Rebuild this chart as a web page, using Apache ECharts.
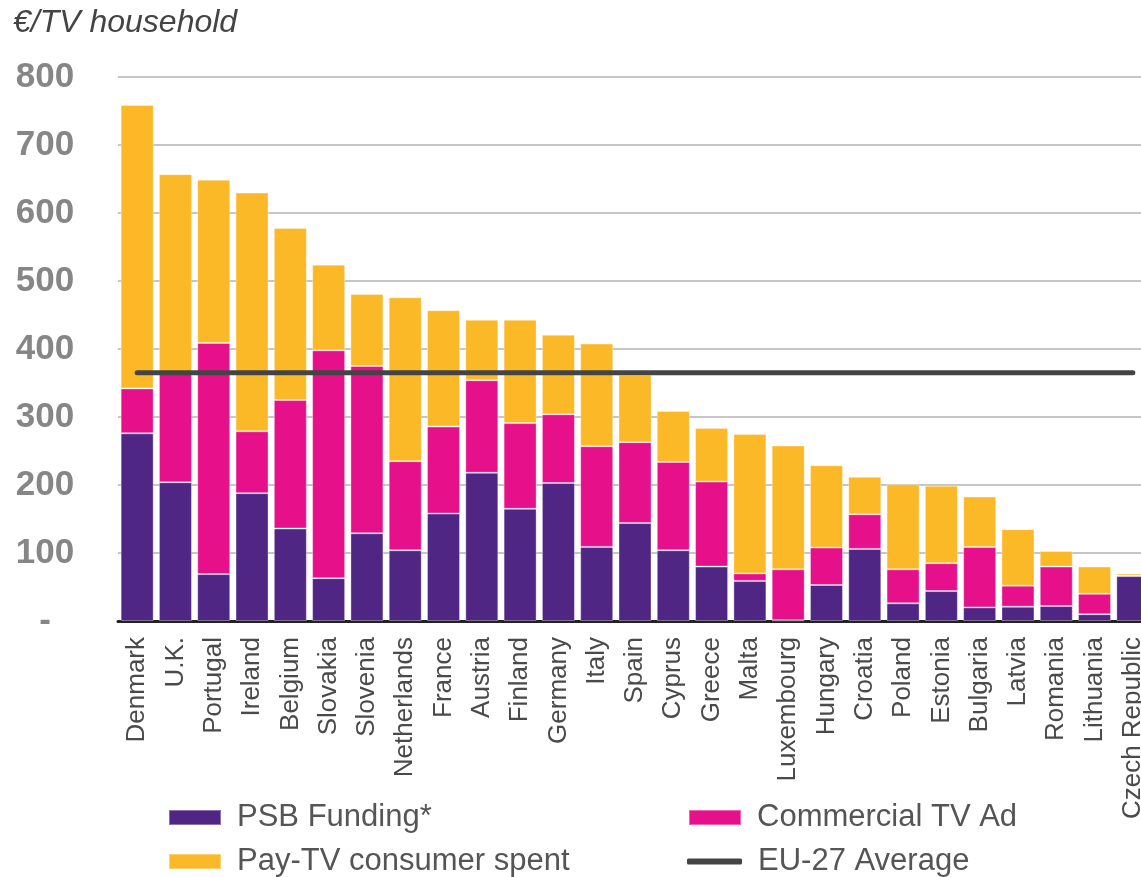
<!DOCTYPE html>
<html>
<head>
<meta charset="utf-8">
<script src="https://cdn.jsdelivr.net/npm/echarts@6/dist/echarts.min.js"></script>
<style>
  html, body { margin: 0; padding: 0; background: #fff; overflow: hidden; }
  #chart { width: 1141px; height: 877px; }
</style>
</head>
<body>
<div id="chart"></div>
<script>
const categories = ['Denmark', 'U.K.', 'Portugal', 'Ireland', 'Belgium', 'Slovakia', 'Slovenia', 'Netherlands', 'France', 'Austria', 'Finland', 'Germany', 'Italy', 'Spain', 'Cyprus', 'Greece', 'Malta', 'Luxembourg', 'Hungary', 'Croatia', 'Poland', 'Estonia', 'Bulgaria', 'Latvia', 'Romania', 'Lithuania', 'Czech Republic'];
const psbFunding = [276, 204, 69, 188, 136, 63, 129, 104, 158, 218, 165, 203, 109, 144, 104, 80, 59, 1, 53, 106, 26, 44, 20, 21, 22, 10, 66];
const commercialAd = [66, 160, 340, 91, 189, 335, 246, 131, 128, 136, 126, 101, 148, 119, 130, 125, 11, 75, 55, 51, 50, 41, 89, 31, 58, 30, 1];
const payTV = [417, 293, 240, 351, 253, 126, 106, 241, 171, 89, 152, 117, 151, 99, 75, 79, 205, 182, 121, 55, 125, 114, 74, 83, 23, 40, 3];
const euAverage = [365, 365, 365, 365, 365, 365, 365, 365, 365, 365, 365, 365, 365, 365, 365, 365, 365, 365, 365, 365, 365, 365, 365, 365, 365, 365, 365];
const yTicks = { min: 0, max: 800, interval: 100 };

const FONT = 'Liberation Sans, Arial, sans-serif';
const chart = echarts.init(document.getElementById('chart'));

const legendText = { fontFamily: FONT, fontSize: 31, color: '#555', padding: [0, 0, 0, 11] };
function legendAt(name, left, top, extra) {
  return Object.assign({
    data: [name], left: left, top: top, orient: 'horizontal', padding: 0,
    itemWidth: 52, itemHeight: 15, icon: 'rect', selectedMode: false,
    textStyle: legendText
  }, extra || {});
}

const barStyle = (c) => ({ color: c, borderColor: 'rgba(255,255,255,0.35)', borderWidth: 1 });

chart.setOption({
  animation: false,
  backgroundColor: '#fff',
  title: {
    text: '€/TV household', left: 13, top: 7, padding: 0,
    textStyle: { fontFamily: FONT, fontSize: 32, fontStyle: 'italic', fontWeight: 'normal', color: '#444' }
  },
  legend: [
    legendAt('PSB Funding*', 168, 802),
    legendAt('Commercial TV Ad', 688, 802),
    legendAt('Pay-TV consumer spent', 168, 846),
    legendAt('EU-27 Average', 687, 846, { icon: 'roundRect', itemHeight: 6, itemWidth: 55 })
  ],
  grid: { left: 118, width: 1034, top: 77, bottom: 256, containLabel: false, outerBoundsMode: 'none' },
  xAxis: {
    type: 'category',
    data: categories,
    axisLine: { show: true, lineStyle: { color: '#222', width: 3 } },
    axisTick: { show: false },
    axisLabel: {
      interval: 0, rotate: 90, margin: 16, hideOverlap: false,
      fontFamily: FONT, fontSize: 26, color: '#4a4a4a'
    }
  },
  yAxis: {
    type: 'value',
    min: yTicks.min, max: yTicks.max, interval: yTicks.interval,
    axisLine: { show: false },
    axisTick: { show: false },
    splitLine: { show: true, lineStyle: { color: '#c6c6c6', width: 2 } },
    axisLabel: {
      margin: 73, align: 'center',
      fontFamily: FONT, fontSize: 35, fontWeight: 'bold', color: '#868686',
      formatter: (v) => v === 0 ? '-' : String(v)
    }
  },
  series: [
    { name: 'PSB Funding*', type: 'bar', stack: 'tv', barWidth: 33, data: psbFunding, itemStyle: barStyle('#4f2684') },
    { name: 'Commercial TV Ad', type: 'bar', stack: 'tv', barWidth: 33, data: commercialAd, itemStyle: barStyle('#e6118a') },
    { name: 'Pay-TV consumer spent', type: 'bar', stack: 'tv', barWidth: 33, data: payTV, itemStyle: barStyle('#fbb827') },
    {
      name: 'EU-27 Average', type: 'line', data: euAverage, symbol: 'none', showSymbol: false, z: 5,
      lineStyle: { color: '#444', width: 5, cap: 'round' },
      itemStyle: { color: '#444' }
    }
  ]
});
</script>
</body>
</html>
